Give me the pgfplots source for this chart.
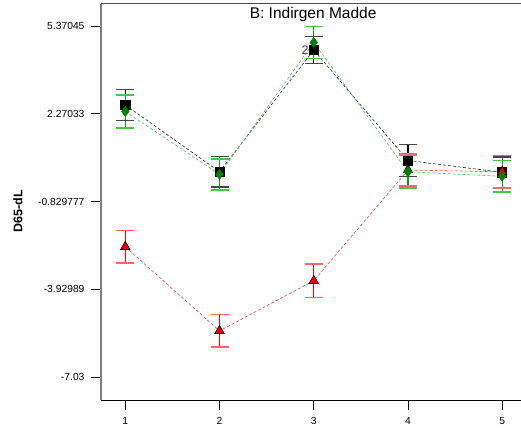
\documentclass[border=0pt]{standalone}
\usepackage{pgfplots}
\pgfplotsset{compat=1.18}
\usepackage{fontspec}
\setmainfont{Liberation Sans}
\usetikzlibrary{calc}

\definecolor{bargray}{RGB}{0,0,0}
\definecolor{capgray}{RGB}{70,70,70}
\definecolor{linegray}{RGB}{40,40,40}
\definecolor{mkgreen}{RGB}{0,128,0}
\definecolor{linegreen}{RGB}{70,190,70}
\definecolor{bargreen}{RGB}{0,170,0}
\definecolor{capgreen}{RGB}{70,200,70}
\definecolor{mkred}{RGB}{240,0,0}
\definecolor{linered}{RGB}{255,60,60}
\definecolor{barred}{RGB}{255,0,0}
\definecolor{capred}{RGB}{255,100,100}

% interval bars: (x,low) (x,high) per point, with caps drawn as "-" marks
\pgfplotsset{
  ibars/.style 2 args={color=#1, line width=1.3pt, solid, forget plot,
    unbounded coords=jump,
    mark=-, mark size=9pt, mark options={color=#2, line width=1.5pt, solid}},
}

\begin{document}
\begin{tikzpicture}
\begin{axis}[
  scale only axis, width=420pt, height=396pt,
  xmin=0.742, xmax=5.2, ymin=-7.842, ymax=6.147,
  axis x line*=bottom, axis y line*=left,
  x axis line style={-, black, line width=1pt},
  y axis line style={-, gray, line width=1.6pt},
  xtick={1,2,3,4,5},
  ytick={-7.03,-3.92989,-0.829777,2.27033,5.37045},
  yticklabels={-7.03,-3.92989,-0.829777,2.27033,5.37045},
  tick align=outside, major tick length=10pt,
  tick style={black, line width=0.8pt},
  /pgf/number format/assume math mode=true,
  ticklabel style={font=\fontsize{10.3}{12}\selectfont},
  xticklabel style={yshift=-4pt},
  yticklabel style={xshift=-3pt},
  ylabel={\textbf{D65-dL}},
  ylabel style={at={(axis description cs:0,0.477)}, anchor=center, yshift=83pt,
                font=\fontsize{12.5}{14}\selectfont},
  clip=false,
]
\coordinate (ll) at (rel axis cs:0,0);
\coordinate (ur) at (rel axis cs:1,1);
\draw[black!70, line width=1pt] (rel axis cs:0,1) -- (rel axis cs:1,1);

% black series: squares
\addplot[ibars={bargray}{capgray}] coordinates {
  (1,2.03) (1,3.13) (1,nan)
  (2,-0.32) (2,0.76) (2,nan)
  (3,4.04) (3,5.00) (3,nan)
  (4,0.05) (4,1.19) (4,nan)
  (5,-0.35) (5,0.75)
  };
\addplot[linegray, densely dashed, line width=0.6pt,
  mark=square*, mark size=4.6pt, mark options={solid, fill=black, draw=black}]
  coordinates {(1,2.58) (2,0.22) (3,4.52) (4,0.62) (5,0.20)};

% red series: triangles
\addplot[ibars={barred}{capred}] coordinates {
  (1,-3.01) (1,-1.85) (1,nan)
  (2,-5.97) (2,-4.83) (2,nan)
  (3,-4.22) (3,-3.04) (3,nan)
  (4,-0.29) (4,0.85) (4,nan)
  (5,-0.35) (5,0.79)
  };
\addplot[linered, densely dashed, line width=0.6pt,
  mark=triangle*, mark size=5.5pt, mark options={solid, fill=mkred, draw=black, line width=0.6pt}]
  coordinates {(1,-2.43) (2,-5.40) (3,-3.63) (4,0.28) (5,0.22)};

% green series: diamonds
\addplot[ibars={bargreen}{capgreen}] coordinates {
  (1,1.77) (1,2.93) (1,nan)
  (2,-0.42) (2,0.68) (2,nan)
  (3,4.23) (3,5.35) (3,nan)
  (4,-0.36) (4,0.80) (4,nan)
  (5,-0.49) (5,0.61)
  };
\addplot[linegreen, densely dashed, line width=0.6pt,
  mark=diamond*, mark size=5pt, mark options={solid, fill=mkgreen, draw=mkgreen}]
  coordinates {(1,2.35) (2,0.13) (3,4.79) (4,0.22) (5,0.06)};

\node[anchor=east, font=\fontsize{12.5}{14}\selectfont, text=black!75, inner sep=0pt,
  xshift=-5pt] at (axis cs:3,4.52) {2};
\node[anchor=north, font=\fontsize{15.5}{18}\selectfont, inner sep=0pt, yshift=-3pt]
  at (axis description cs:0.505,1) {B: Indirgen Madde};
\end{axis}
\pgfresetboundingbox
\path[use as bounding box] ($(ll)+(-101pt,-36pt)$) rectangle ($(ur)+(0pt,4pt)$);
\end{tikzpicture}
\end{document}
